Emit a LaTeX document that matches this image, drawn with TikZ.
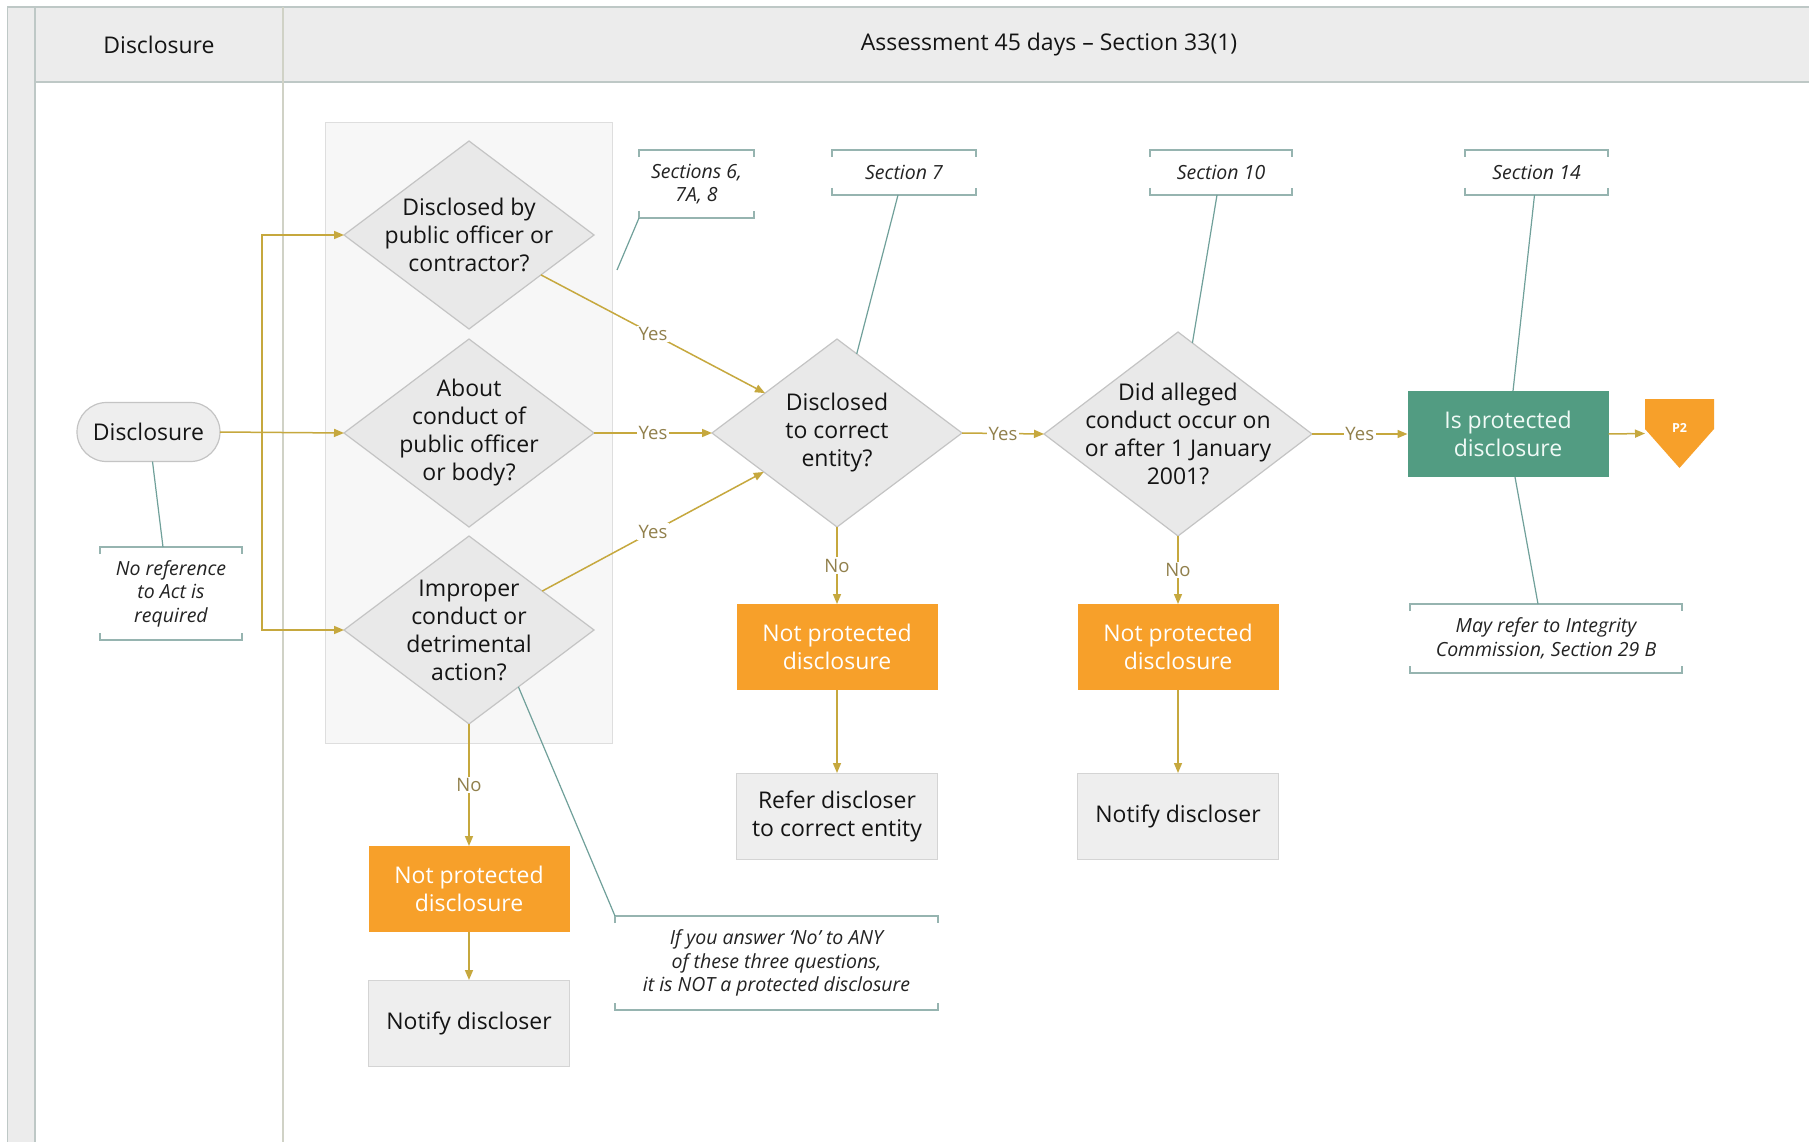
\documentclass[tikz,border=0pt]{standalone}
\usepackage{fontspec}
\setmainfont{Open Sans}
\usetikzlibrary{shapes.geometric,arrows.meta}
\definecolor{flowc}{RGB}{198,168,62}
\definecolor{lblc}{RGB}{145,128,76}
\definecolor{annc}{RGB}{112,160,154}
\definecolor{brkc}{RGB}{150,180,176}
\definecolor{orng}{RGB}{247,160,42}
\definecolor{grn}{RGB}{82,156,130}
\definecolor{grntxt}{RGB}{240,250,246}
\definecolor{dfill}{RGB}{233,233,233}
\definecolor{dline}{RGB}{196,196,196}
\definecolor{pfill}{RGB}{238,238,238}
\definecolor{pline}{RGB}{212,212,212}
\definecolor{hdr}{RGB}{236,236,236}
\definecolor{hline}{RGB}{190,200,198}
\definecolor{lanec}{RGB}{208,210,198}
\definecolor{grpfill}{RGB}{247,247,247}
\definecolor{grpline}{RGB}{222,222,222}
\definecolor{txt}{RGB}{20,20,20}
\definecolor{ntxt}{RGB}{35,35,35}
\newcommand{\mainsz}{\fontsize{23}{28}\selectfont}
\newcommand{\notesz}{\fontsize{19.5}{23.5}\selectfont\itshape}
\newcommand{\lblsz}{\fontsize{18.5}{20}\selectfont}
\newcommand{\notebrk}[1]{%
  \draw[brkl] ([yshift=-7pt]#1.north west) -- (#1.north west) -- (#1.north east) -- ([yshift=-7pt]#1.north east);
  \draw[brkl] ([yshift=7pt]#1.south west) -- (#1.south west) -- (#1.south east) -- ([yshift=7pt]#1.south east);}
\tikzset{
  dia/.style={diamond, draw=dline, fill=dfill, line width=1.2pt, inner sep=0pt, outer sep=0pt},
  dtext/.style={align=center, text=txt, font=\mainsz, inner sep=0pt},
  obox/.style={rectangle, fill=orng, minimum width=201pt, minimum height=86pt, align=center, text=white, font=\mainsz, inner sep=0pt, outer sep=0pt},
  gbox/.style={rectangle, fill=pfill, draw=pline, line width=1pt, minimum width=201pt, minimum height=86pt, align=center, text=txt, font=\mainsz, inner sep=0pt, outer sep=0pt},
  term/.style={rectangle, rounded corners=29.5pt, fill=pfill, draw=dline, line width=1.2pt, minimum width=143pt, minimum height=59pt, text=txt, font=\mainsz, inner sep=0pt, outer sep=0pt},
  notebox/.style={rectangle, align=center, text=ntxt, font=\notesz, inner sep=0pt, outer sep=0pt},
  brkl/.style={draw=brkc, line width=1.3pt},
  annl/.style={draw=annc, line width=1.2pt},
  flow/.style={draw=flowc, line width=1.5pt, -{Triangle[length=10pt,width=8pt]}},
  lbl/.style={fill=white, text=lblc, font=\lblsz, inner sep=1.5pt},
  hdrtext/.style={text=txt, font=\mainsz, inner sep=0pt}
}
\begin{document}
\begin{tikzpicture}[x=1pt,y=-1pt]
\useasboundingbox (0,0) rectangle (1809,1142);
% frame and header
\fill[white] (0,0) rectangle (1809,1142);
\fill[hdr] (7,7) rectangle (35,1142);
\fill[hdr] (35,7) rectangle (1809,82);
\draw[hline, line width=2pt] (7,7) -- (1809,7);
\draw[hline, line width=2.5pt] (35,82) -- (1809,82);
\draw[hline, line width=1pt] (7,7) -- (7,1142);
\draw[hline, line width=2.5pt] (35,7) -- (35,1142);
\draw[lanec, line width=1.8pt] (283,7) -- (283,1142);
\node[hdrtext] (h1) at (159,45) {Disclosure};
\node[hdrtext] (h2) at (1049,45) {Assessment 45 days – Section 33(1)};
% group box
\draw[grpline, fill=grpfill, line width=1pt] (325,123) rectangle (612,743);
% diamonds
\node[dia, minimum width=250pt, minimum height=188pt] (d1) at (469,235) {};
\node[dtext] (t1) at (d1) {Disclosed by\\public officer or\\contractor?};
\node[dia, minimum width=250pt, minimum height=188pt] (d2) at (469,433) {};
\node[dtext] (t2) at (d2) {About\\conduct of\\public officer\\or body?};
\node[dia, minimum width=250pt, minimum height=188pt] (d3) at (469,630) {};
\node[dtext] (t3) at (d3) {Improper\\conduct or\\detrimental\\action?};
\node[dia, minimum width=250pt, minimum height=188pt] (d4) at (837,433) {};
\node[dtext] (t4) at (d4) {Disclosed\\to correct\\entity?};
\node[dia, minimum width=268pt, minimum height=204pt] (d5) at (1178,434) {};
\node[dtext] (t5) at (d5) {Did alleged\\conduct occur on\\or after 1 January\\2001?};
% terminator
\node[term] (disc) at (148.5,432) {Disclosure};
% boxes
\node[obox] (o1) at (837,647) {Not protected\\disclosure};
\node[gbox] (g1) at (837,816) {Refer discloser\\to correct entity};
\node[obox] (o2) at (1178,647) {Not protected\\disclosure};
\node[gbox] (g2) at (1178,816) {Notify discloser};
\node[obox] (o3) at (469,889) {Not protected\\disclosure};
\node[gbox] (g3) at (469,1023) {Notify discloser};
\node[rectangle, fill=grn, minimum width=201pt, minimum height=86pt, align=center, text=grntxt, font=\mainsz, inner sep=0pt, outer sep=0pt] (grn) at (1508,434) {Is protected\\disclosure};
% off-page connector
\node[rectangle, minimum width=69pt, minimum height=69pt, inner sep=0pt, outer sep=0pt] (p2) at (1679.5,433.5) {};
\fill[orng] (p2.north west) -- (p2.north east) -- ([yshift=-30pt]p2.north east) -- (p2.south) -- ([yshift=-30pt]p2.north west) -- cycle;
\node[text=white, font=\fontsize{12.5}{14}\selectfont\bfseries, inner sep=0pt] (p2t) at ([yshift=6pt]p2.center) {P2};
% notes
\node[notebox, minimum width=142pt, minimum height=93pt] (n0) at (171,593.5) {No reference\\to Act is\\required};
\node[notebox, minimum width=115pt, minimum height=68pt] (n1) at (696.5,184) {Sections 6,\\7A, 8};
\node[notebox, minimum width=144pt, minimum height=45pt] (n2) at (904,172.5) {Section 7};
\node[notebox, minimum width=142pt, minimum height=45pt] (n3) at (1221,172.5) {Section 10};
\node[notebox, minimum width=143pt, minimum height=45pt] (n4) at (1536.5,172.5) {Section 14};
\node[notebox, minimum width=272pt, minimum height=69pt] (n5) at (1546,638.5) {May refer to Integrity\\Commission, Section 29 B};
\node[notebox, minimum width=323pt, minimum height=94pt] (n6) at (776.5,963) {If you answer ‘No’ to ANY\\of these three questions,\\it is NOT a protected disclosure};
\notebrk{n0}
\notebrk{n1}
\notebrk{n2}
\notebrk{n3}
\notebrk{n4}
\notebrk{n5}
\notebrk{n6}
% annotation lines
\coordinate (c1) at (617,270);
\draw[annl] ([xshift=4pt]disc.south) -- ([xshift=-8pt]n0.north);
\draw[annl] (n1.south west) -- (c1);
\draw[annl] ([xshift=-6pt]n2.south) -- (d4.76);
\draw[annl] ([xshift=-4pt]n3.south) -- (d5.81);
\draw[annl] ([xshift=-2pt]n4.south) -- ([xshift=5pt]grn.north);
\draw[annl] ([xshift=7pt]grn.south) -- ([xshift=-8pt]n5.north);
\draw[annl] (d3.-49) -- (n6.north west);
% flows
\coordinate (j) at (262,433);
\draw[flow] (disc.east) -- (d2.west);
\draw[flow] (j) |- (d1.west);
\draw[flow] (j) |- (d3.west);
\draw[flow] (d1.-29) -- node[lbl] {Yes} (d4.151);
\draw[flow] (d2.east) -- node[lbl] {Yes} (d4.west);
\draw[flow] (d3.28) -- node[lbl] {Yes} (d4.208);
\draw[flow] (d4.east) -- node[lbl] {Yes} (d5.west);
\draw[flow] (d5.east) -- node[lbl] {Yes} (grn.west);
\draw[flow] (grn.east) -- (p2.west);
\draw[flow] (d4.south) -- node[lbl] {No} (o1.north);
\draw[flow] (d5.south) -- node[lbl] {No} (o2.north);
\draw[flow] (d3.south) -- node[lbl] {No} (o3.north);
\draw[flow] (o1.south) -- (g1.north);
\draw[flow] (o2.south) -- (g2.north);
\draw[flow] (o3.south) -- (g3.north);
\end{tikzpicture}
\end{document}
